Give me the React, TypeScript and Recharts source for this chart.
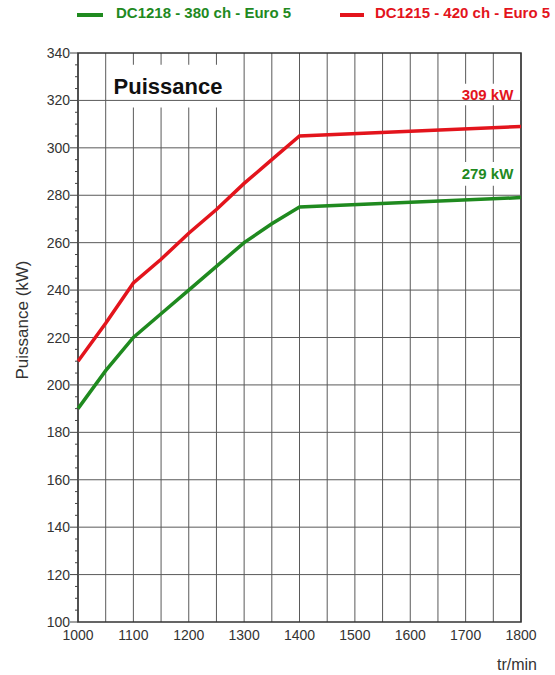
import { LineChart, Line, XAxis, YAxis, CartesianGrid, ReferenceLine, ReferenceArea } from 'recharts';

const rpm = [1000, 1050, 1100, 1150, 1200, 1250, 1300, 1350, 1400, 1800];
const dc1218 = [190, 206, 220, 230, 240, 250, 260, 268, 275, 279];
const dc1215 = [210, 226, 243, 253, 264, 274, 285, 295, 305, 309];

const xTicks = [1000, 1050, 1100, 1150, 1200, 1250, 1300, 1350, 1400, 1450, 1500, 1550, 1600, 1650, 1700, 1750, 1800];
const yMajor = [100, 120, 140, 160, 180, 200, 220, 240, 260, 280, 300, 320, 340];
const yMinor = [
  100, 105, 110, 115, 120, 125, 130, 135, 140, 145, 150, 155, 160, 165, 170, 175, 180, 185, 190, 195,
  200, 205, 210, 215, 220, 225, 230, 235, 240, 245, 250, 255, 260, 265, 270, 275, 280, 285, 290, 295,
  300, 305, 310, 315, 320, 325, 330, 335, 340,
];

const GREEN = '#1f8a1f';
const RED = '#e3141c';
const FONT = '"Liberation Sans", Arial, sans-serif';

const data = rpm.map((r, i) => ({ rpm: r, green: dc1218[i], red: dc1215[i] }));

function YTick(props: any) {
  const { x, y, payload } = props;
  const major = payload.value % 20 === 0;
  return (
    <g>
      <line x1={x - (major ? 8 : 3)} x2={x} y1={y} y2={y} stroke="#444" strokeWidth={1} />
      {major && (
        <text x={x - 8} y={y} dy={5} textAnchor="end" fill="#333" fontSize={14} fontFamily={FONT}>
          {payload.value}
        </text>
      )}
    </g>
  );
}

const boxLabel = (value: string, color: string, size: number) => ({
  value,
  position: 'center' as const,
  fill: color,
  fontSize: size,
  fontWeight: 'bold',
  fontFamily: FONT,
});

export default function App() {
  return (
    <div style={{ position: 'absolute', left: 0, top: 0, width: 555, height: 675, background: '#fff' }}>
      <div style={{ position: 'absolute', left: 77, top: 13, width: 26, height: 4, background: GREEN }} />
      <span style={{ position: 'absolute', left: 116, top: 4, fontFamily: FONT, fontWeight: 'bold', fontSize: 15, color: GREEN, whiteSpace: 'nowrap' }}>
        DC1218 - 380 ch - Euro 5
      </span>
      <div style={{ position: 'absolute', left: 340, top: 13, width: 24, height: 4, background: RED }} />
      <span style={{ position: 'absolute', left: 375, top: 4, fontFamily: FONT, fontWeight: 'bold', fontSize: 15, color: RED, whiteSpace: 'nowrap' }}>
        DC1215 - 420 ch - Euro 5
      </span>
      <LineChart width={555} height={675} data={data} margin={{ top: 53, right: 34, bottom: 23, left: 18 }}>
        <CartesianGrid horizontal={false} stroke="#5a5a5a" strokeWidth={1} />
        {yMajor.slice(1, -1).map((v) => (
          <ReferenceLine key={v} y={v} stroke="#5a5a5a" strokeWidth={1} />
        ))}
        <XAxis
          dataKey="rpm"
          type="number"
          domain={[1000, 1800]}
          ticks={xTicks}
          interval={0}
          height={30}
          tickLine={false}
          axisLine={false}
          tickFormatter={(v: number) => (v % 100 === 0 ? String(v) : '')}
          tick={{ fill: '#333', fontSize: 14, fontFamily: FONT }}
          label={{
            content: (p: any) => (
              <text x={p.viewBox.x + p.viewBox.width + 16} y={p.viewBox.y + 48} textAnchor="end" fill="#333" fontSize={16} fontFamily={FONT}>
                tr/min
              </text>
            ),
          }}
        />
        <YAxis
          type="number"
          domain={[100, 340]}
          ticks={yMinor}
          interval={0}
          width={60}
          tickSize={0}
          tickMargin={0}
          tickLine={false}
          axisLine={false}
          tick={(p: any) => <YTick {...p} />}
          label={{
            content: () => {
              const cx = 22;
              const cy = 320;
              return (
                <text x={cx} y={cy} transform={`rotate(-90 ${cx} ${cy})`} dy={6} textAnchor="middle" fill="#333" fontSize={17} fontFamily={FONT}>
                  Puissance (kW)
                </text>
              );
            },
          }}
        />
        <ReferenceArea x1={1055} x2={1270} y1={317} y2={335} fill="#fff" fillOpacity={1} stroke="none" label={boxLabel('Puissance', '#111', 22)} />
        <ReferenceArea x1={1683} x2={1796} y1={318} y2={327} fill="#fff" fillOpacity={1} stroke="none" label={boxLabel('309 kW', RED, 15)} />
        <ReferenceArea x1={1683} x2={1796} y1={284} y2={294} fill="#fff" fillOpacity={1} stroke="none" label={boxLabel('279 kW', GREEN, 15)} />
        <ReferenceArea x1={1000} x2={1800} y1={100} y2={340} fill="none" stroke="#333" strokeWidth={1.5} />
        <Line type="linear" dataKey="green" stroke={GREEN} strokeWidth={3.5} dot={false} isAnimationActive={false} />
        <Line type="linear" dataKey="red" stroke={RED} strokeWidth={3.5} dot={false} isAnimationActive={false} />
      </LineChart>
    </div>
  );
}
